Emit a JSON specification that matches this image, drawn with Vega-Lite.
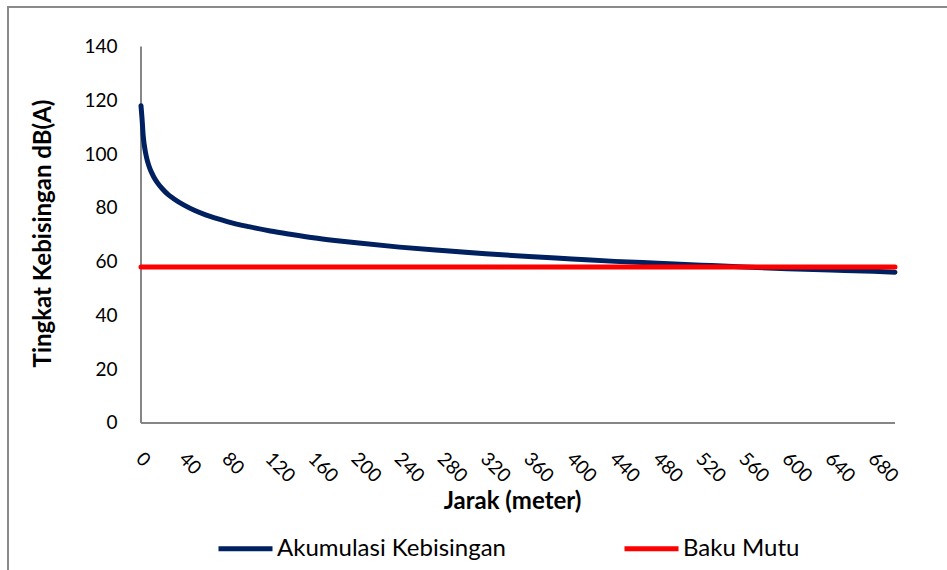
{
  "$schema": "https://vega.github.io/schema/vega-lite/v6.json",
  "width": 942,
  "height": 566,
  "autosize": {"type": "none"},
  "padding": {"left": 8, "top": 7, "right": -3, "bottom": -3},
  "background": "white",
  "config": {
    "font": "Lato",
    "view": {"stroke": "#8a8a8a", "strokeWidth": 2},
    "axis": {"grid": false, "ticks": false, "tickSize": 0, "domain": false, "labelColor": "#000000", "labelFont": "Lato", "labelFontSize": 19, "titleFont": "Lato", "titleFontSize": 24, "titleFontWeight": "bold", "titleColor": "#000000"}
  },
  "datasets": {
    "axes": [
      {"jarak": 0, "jarak2": 700, "nilai": 0, "nilai2": 0},
      {"jarak": 0, "jarak2": 0, "nilai": 0, "nilai2": 140}
    ],
    "series": [
      {"jarak": 0, "nilai": 118, "seri": "Akumulasi Kebisingan"},
      {"jarak": 1, "nilai": 113, "seri": "Akumulasi Kebisingan"},
      {"jarak": 2, "nilai": 107, "seri": "Akumulasi Kebisingan"},
      {"jarak": 3, "nilai": 103.5, "seri": "Akumulasi Kebisingan"},
      {"jarak": 4, "nilai": 101, "seri": "Akumulasi Kebisingan"},
      {"jarak": 5, "nilai": 99, "seri": "Akumulasi Kebisingan"},
      {"jarak": 6, "nilai": 97.4, "seri": "Akumulasi Kebisingan"},
      {"jarak": 8, "nilai": 94.9, "seri": "Akumulasi Kebisingan"},
      {"jarak": 10, "nilai": 93, "seri": "Akumulasi Kebisingan"},
      {"jarak": 12, "nilai": 91.4, "seri": "Akumulasi Kebisingan"},
      {"jarak": 15, "nilai": 89.5, "seri": "Akumulasi Kebisingan"},
      {"jarak": 20, "nilai": 87, "seri": "Akumulasi Kebisingan"},
      {"jarak": 25, "nilai": 85, "seri": "Akumulasi Kebisingan"},
      {"jarak": 30, "nilai": 83.5, "seri": "Akumulasi Kebisingan"},
      {"jarak": 40, "nilai": 81, "seri": "Akumulasi Kebisingan"},
      {"jarak": 50, "nilai": 79, "seri": "Akumulasi Kebisingan"},
      {"jarak": 60, "nilai": 77.4, "seri": "Akumulasi Kebisingan"},
      {"jarak": 70, "nilai": 76.1, "seri": "Akumulasi Kebisingan"},
      {"jarak": 80, "nilai": 74.9, "seri": "Akumulasi Kebisingan"},
      {"jarak": 100, "nilai": 73, "seri": "Akumulasi Kebisingan"},
      {"jarak": 120, "nilai": 71.4, "seri": "Akumulasi Kebisingan"},
      {"jarak": 140, "nilai": 70.1, "seri": "Akumulasi Kebisingan"},
      {"jarak": 160, "nilai": 68.9, "seri": "Akumulasi Kebisingan"},
      {"jarak": 180, "nilai": 67.9, "seri": "Akumulasi Kebisingan"},
      {"jarak": 200, "nilai": 67, "seri": "Akumulasi Kebisingan"},
      {"jarak": 240, "nilai": 65.4, "seri": "Akumulasi Kebisingan"},
      {"jarak": 280, "nilai": 64.1, "seri": "Akumulasi Kebisingan"},
      {"jarak": 320, "nilai": 62.9, "seri": "Akumulasi Kebisingan"},
      {"jarak": 360, "nilai": 61.9, "seri": "Akumulasi Kebisingan"},
      {"jarak": 400, "nilai": 61, "seri": "Akumulasi Kebisingan"},
      {"jarak": 440, "nilai": 60.1, "seri": "Akumulasi Kebisingan"},
      {"jarak": 480, "nilai": 59.4, "seri": "Akumulasi Kebisingan"},
      {"jarak": 520, "nilai": 58.7, "seri": "Akumulasi Kebisingan"},
      {"jarak": 560, "nilai": 58, "seri": "Akumulasi Kebisingan"},
      {"jarak": 600, "nilai": 57.4, "seri": "Akumulasi Kebisingan"},
      {"jarak": 640, "nilai": 56.9, "seri": "Akumulasi Kebisingan"},
      {"jarak": 680, "nilai": 56.4, "seri": "Akumulasi Kebisingan"},
      {"jarak": 700, "nilai": 56.1, "seri": "Akumulasi Kebisingan"},
      {"jarak": 0, "nilai": 58, "seri": "Baku Mutu"},
      {"jarak": 700, "nilai": 58, "seri": "Baku Mutu"}
    ]
  },
  "encoding": {
    "x": {
      "field": "jarak", "type": "quantitative",
      "scale": {"domain": [-123.47, 751.07], "nice": false, "zero": false},
      "axis": {
        "title": "Jarak (meter)",
        "values": [0, 40, 80, 120, 160, 200, 240, 280, 320, 360, 400, 440, 480, 520, 560, 600, 640, 680],
        "offset": -150,
        "labelAngle": 45, "labelAlign": "left", "labelBaseline": "top",
        "labelPadding": 26, "labelOffset": 4,
        "labelOverlap": false, "labelBound": false, "labelFlush": false,
        "titleX": 504, "titleY": 78, "titleAlign": "center", "titleBaseline": "middle"
      }
    },
    "y": {
      "field": "nilai", "type": "quantitative",
      "scale": {"domain": [-55.78, 154.69], "nice": false, "zero": false},
      "axis": {
        "title": "Tingkat Kebisingan dB(A)",
        "values": [0, 20, 40, 60, 80, 100, 120, 140],
        "offset": -133,
        "labelPadding": 24,
        "labelOverlap": false, "labelBound": false, "labelFlush": false,
        "titleX": -98, "titleY": 226, "titleAlign": "center", "titleBaseline": "middle", "titleAngle": -90
      }
    }
  },
  "layer": [
    {
      "data": {"name": "axes"},
      "mark": {"type": "rule", "color": "#868686", "strokeWidth": 2},
      "encoding": {
        "x2": {"field": "jarak2"},
        "y2": {"field": "nilai2"}
      }
    },
    {
      "data": {"name": "series"},
      "mark": {"type": "line", "strokeWidth": 5, "strokeCap": "round", "interpolate": "monotone"},
      "encoding": {
        "color": {
          "field": "seri", "type": "nominal",
          "scale": {"domain": ["Akumulasi Kebisingan", "Baku Mutu"], "range": ["#002060", "#ff0000"]},
          "legend": {
            "title": null, "orient": "none", "direction": "horizontal", "columns": 2,
            "legendX": 208, "legendY": 512,
            "symbolType": "stroke", "symbolSize": 2916, "symbolStrokeWidth": 5,
            "labelFont": "Lato", "labelFontSize": 24, "labelColor": "#000000", "labelOffset": 2,
            "columnPadding": 108, "labelLimit": 400
          }
        }
      }
    }
  ]
}
